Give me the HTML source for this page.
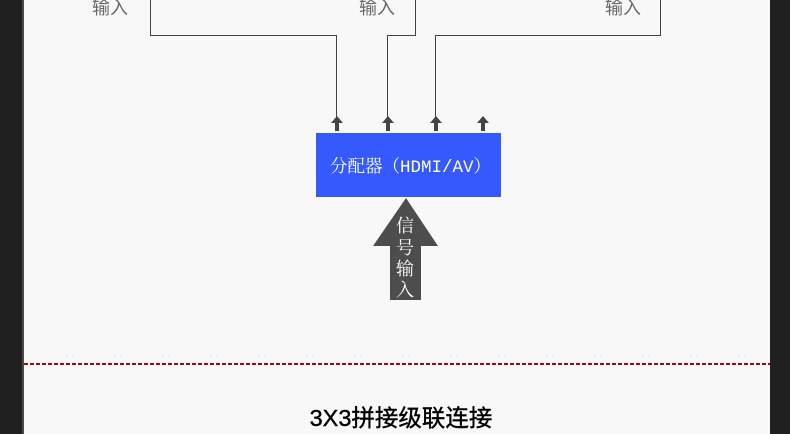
<!DOCTYPE html>
<html><head><meta charset="utf-8"><style>
body{margin:0;width:790px;height:434px;overflow:hidden;background:#f8f8f8;font-family:"Liberation Sans","Noto Sans CJK SC",sans-serif;}
</style></head><body>
<svg width="790" height="434" style="position:absolute;left:0;top:0">
<rect x="0" y="0" width="22" height="434" fill="#202020"/>
<rect x="22" y="0" width="2" height="434" fill="#4a4a4a"/>
<rect x="770" y="0" width="20" height="434" fill="#202020"/>
<g font-family="Liberation Sans, Noto Sans CJK SC, sans-serif" font-size="18" fill="#666">
<text x="92" y="14">输入</text>
<text x="359" y="14">输入</text>
<text x="605" y="14">输入</text>
</g>
<g fill="none" stroke="#444" stroke-width="1">
<polyline points="150.5,0 150.5,35.5 336.5,35.5 336.5,120"/>
<polyline points="415.5,0 415.5,35.5 387.5,35.5 387.5,120"/>
<polyline points="660.5,0 660.5,35.5 435.5,35.5 435.5,120"/>
</g>
<g fill="#444">
<path d="M331,123 L337,116 L343,123 L339,123 L339,131 L335,131 L335,123Z"/>
<path d="M382,123 L388,116 L394,123 L390,123 L390,131 L386,131 L386,123Z"/>
<path d="M430,123 L436,116 L442,123 L438,123 L438,131 L434,131 L434,123Z"/>
<path d="M477,123 L483,116 L489,123 L485,123 L485,131 L481,131 L481,123Z"/>
</g>
<rect x="316" y="133" width="185" height="64" fill="#3559fd"/>
<text x="330" y="172" font-family="Liberation Mono, Noto Serif CJK SC, monospace" font-size="17.5" fill="#fff">分配器（HDMI/AV）</text>
<path d="M406,198 L438,246 L421,246 L421,300 L390,300 L390,246 L373,246Z" fill="#4d4d4d"/>
<g font-family="Liberation Serif, Noto Serif CJK SC, serif" font-size="18" fill="#fff" text-anchor="middle">
<text x="405" y="232">信</text>
<text x="405" y="254">号</text>
<text x="405" y="275">输</text>
<text x="405" y="296">入</text>
</g>
<line x1="24" y1="364" x2="770" y2="364" stroke="#b0000a" stroke-width="2" stroke-dasharray="4,2"/>
<text x="401" y="426" text-anchor="middle" font-size="23.5" fill="#000" stroke="#000" stroke-width="0.4">3X3拼接级联连接</text>
</svg>
</body></html>
